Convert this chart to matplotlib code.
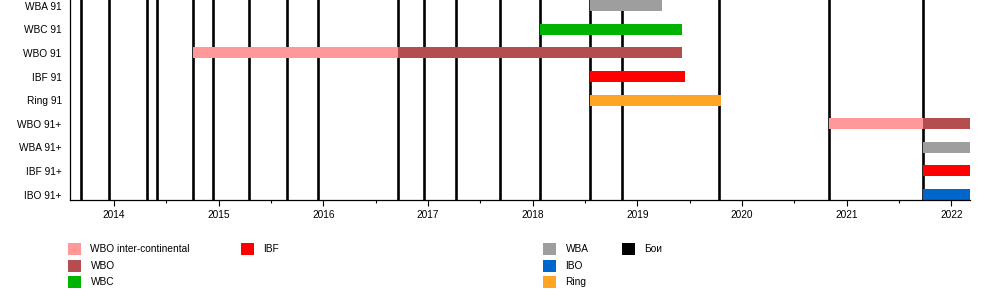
"""Timeline of title reigns and fights (EasyTimeline style)."""

import matplotlib
matplotlib.use("Agg")
import matplotlib.pyplot as plt
import pandas as pd
from matplotlib.patches import Rectangle

plt.rcParams["font.family"] = ["Liberation Sans", "DejaVu Sans"]

# rows, top to bottom
rows = ["WBA 91", "WBC 91", "WBO 91", "IBF 91", "Ring 91",
        "WBO 91+", "WBA 91+", "IBF 91+", "IBO 91+"]

# title reigns: (row, start, end, kind)
bar_rows = ["WBO 91", "WBO 91", "WBC 91", "WBA 91", "IBF 91", "Ring 91",
            "WBO 91+", "WBO 91+", "WBA 91+", "IBF 91+", "IBO 91+"]
bar_start = ["2014-10-04", "2016-09-17", "2018-01-27", "2018-07-21", "2018-07-21",
             "2018-07-21", "2020-10-31", "2021-09-25", "2021-09-25", "2021-09-25",
             "2021-09-25"]
bar_end = ["2016-09-17", "2019-06-07", "2019-06-07", "2019-03-29", "2019-06-18",
           "2019-10-19", "2021-09-25", "2022-03-07", "2022-03-07", "2022-03-07",
           "2022-03-07"]
bar_kind = ["WBO inter-continental", "WBO", "WBC", "WBA", "IBF", "Ring",
            "WBO inter-continental", "WBO", "WBA", "IBF", "IBO"]

fight_dates = ["2013-09-09", "2013-12-14", "2014-04-26", "2014-05-31", "2014-10-04",
               "2014-12-13", "2015-04-18", "2015-08-29", "2015-12-12", "2016-09-17",
               "2016-12-17", "2017-04-08", "2017-09-09", "2018-01-27", "2018-07-21",
               "2018-11-10", "2019-10-12", "2020-10-31", "2021-09-25"]

period = ["2013-08-01", "2022-03-07"]
years = [2014, 2015, 2016, 2017, 2018, 2019, 2020, 2021, 2022]

colors = {
    "WBO inter-continental": "#ff9999",
    "WBO": "#b34d4f",
    "WBC": "#00b300",
    "IBF": "#ff0000",
    "WBA": "#9e9e9e",
    "IBO": "#0066cc",
    "Ring": "#ffa526",
    "Бои": "#000000",
}
legend_cols = [["WBO inter-continental", "WBO", "WBC"], ["IBF"],
               ["WBA", "IBO", "Ring"], ["Бои"]]


def year_frac(s):
    d = pd.Timestamp(s)
    days = 366 if d.is_leap_year else 365
    return d.year + (d.dayofyear - 1) / days


fig = plt.figure(figsize=(10, 3), dpi=100)
ax = fig.add_axes([0.07, 1 - 200 / 300, 0.90, 200 / 300])

ypos = {name: len(rows) - 1 - i for i, name in enumerate(rows)}

for d in fight_dates:
    ax.axvline(year_frac(d), color="black", linewidth=1.9, zorder=1)

for r, s, e, k in zip(bar_rows, bar_start, bar_end, bar_kind):
    x0, x1 = year_frac(s), year_frac(e)
    ax.barh(ypos[r], x1 - x0, left=x0, height=0.466, color=colors[k],
            linewidth=0, zorder=2)

ax.set_yticks([ypos[r] for r in rows])
ax.set_yticklabels(rows)
ax.set_xticks(years)
ax.set_xticklabels([str(y) for y in years])
ax.set_xticks([y + 0.5 for y in years[:-1]], minor=True)
ax.set_xlim(year_frac(period[0]), year_frac(period[1]))
ax.set_ylim(-0.233, -0.233 + 200 / 23.6)
ax.tick_params(axis="y", length=0, pad=6, labelsize=7.3)
ax.tick_params(axis="x", which="major", length=4, width=0.8, pad=3, labelsize=7.3)
ax.tick_params(axis="x", which="minor", length=2.5, width=0.8)
for side in ["top", "right"]:
    ax.spines[side].set_visible(False)
for side in ["left", "bottom"]:
    ax.spines[side].set_linewidth(0.9)

# legend laid out like the original timeline
col_x = [68, 241, 543, 622]
row_y = [249, 266, 282]
W, H = 1000, 300
for cx, labels in zip(col_x, legend_cols):
    for ry, lab in zip(row_y, labels):
        fig.add_artist(Rectangle((cx / W, (H - ry - 6) / H), 12.5 / W, 12 / H,
                                 transform=fig.transFigure, color=colors[lab],
                                 linewidth=0))
        fig.text((cx + 22.5) / W, (H - ry) / H, lab, fontsize=7.3,
                 va="center", ha="left")

fig.savefig("out.png", dpi=100)
